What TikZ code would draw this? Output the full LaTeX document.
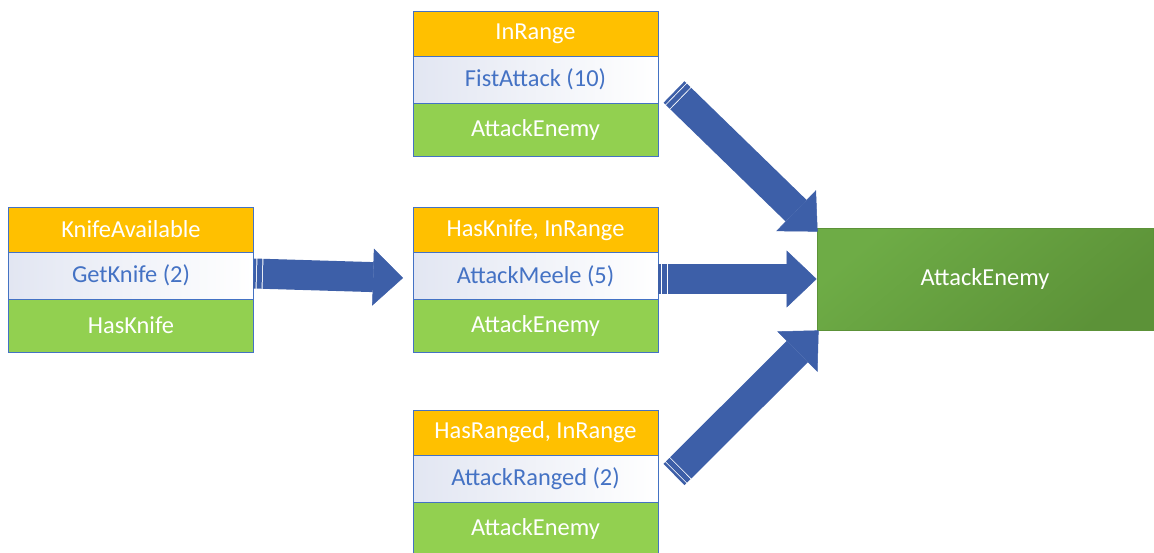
\documentclass[tikz,border=0pt]{standalone}
\usepackage{fontspec}
\setmainfont{Carlito}
\usetikzlibrary{positioning,calc,arrows.meta}

\definecolor{preorange}{RGB}{255,192,0}
\definecolor{effgreen}{RGB}{146,208,80}
\definecolor{boxline}{RGB}{68,114,196}
\definecolor{acttext}{RGB}{68,114,196}
\definecolor{actshade}{RGB}{226,230,242}
\definecolor{goalgreen}{RGB}{110,172,70}
\definecolor{goaldark}{RGB}{92,146,56}
\definecolor{arrowblue}{RGB}{61,95,168}

% striped block arrow from #1 to #2
\newcommand{\blockarrow}[2]{%
    \draw[arrowbar] ($(#1)!9.5pt!(#2)$) -- (#2);
    \draw[arrowstub] (#1) -- ($(#1)!2.5pt!(#2)$);
    \draw[arrowstub] ($(#1)!3.5pt!(#2)$) -- ($(#1)!8.5pt!(#2)$);
}

\begin{document}
\begin{tikzpicture}[x=1pt, y=-1pt,
        cell/.style={rectangle, draw=boxline, line width=0.8pt, outer sep=0pt,
            minimum width=245pt, font=\fontsize{24.4}{28}\selectfont},
        pre/.style={cell, fill=preorange, text=white, minimum height=45pt},
        act/.style={cell, left color=actshade, right color=white, text=acttext, minimum height=47pt},
        eff/.style={cell, fill=effgreen, text=white, minimum height=53pt},
        goal/.style={rectangle, draw=goaldark, line width=0.8pt, top color=goalgreen, bottom color=goaldark,
            shading angle=40, text=white, minimum width=336pt, minimum height=102pt,
            font=\fontsize{24.4}{28}\selectfont},
        arrowbar/.style={draw=arrowblue, line width=30pt,
            -{Triangle[length=30pt, width=57pt, line width=0.5pt]}},
        arrowstub/.style={draw=arrowblue, line width=30pt}]
    \useasboundingbox (0,0) rectangle (1154,552);

    %knife
    \node[pre] (knife-pre) at (131,229.5) {KnifeAvailable};
    \node[act, below=0pt of knife-pre] (knife-act) {GetKnife (2)};
    \node[eff, below=0pt of knife-act] (knife-eff) {HasKnife};

    %fist
    \node[pre] (fist-pre) at (535.5,33.5) {InRange};
    \node[act, below=0pt of fist-pre] (fist-act) {FistAttack (10)};
    \node[eff, below=0pt of fist-act] (fist-eff) {AttackEnemy};

    %melee
    \node[pre] (melee-pre) at (535.5,230) {HasKnife, InRange};
    \node[act, below=0pt of melee-pre] (melee-act) {AttackMeele (5)};
    \node[eff, below=0pt of melee-act] (melee-eff) {AttackEnemy};

    %ranged
    \node[pre] (ranged-pre) at (535.5,432.5) {HasRanged, InRange};
    \node[act, below=0pt of ranged-pre] (ranged-act) {AttackRanged (2)};
    \node[eff, below=0pt of ranged-act] (ranged-eff) {AttackEnemy};

    %goal
    \node[goal] (goal) at (985,279) {AttackEnemy};

    %arrow ends
    \coordinate (knife-out) at ([yshift=2pt]knife-act.east);
    \coordinate (melee-in) at ([shift={(-10,2)}]melee-act.west);
    \coordinate (melee-out) at (melee-act.east |- goal.west);
    \coordinate (fist-out) at ([shift={(16,-11)}]fist-eff.north east);
    \coordinate (ranged-out) at ([shift={(16,-4)}]ranged-act.east);
    \coordinate (goal-top) at ([shift={(1,4)}]goal.north west);
    \coordinate (goal-bottom) at ([shift={(2,0)}]goal.south west);

    %arrows
    \blockarrow{knife-out}{melee-in}
    \blockarrow{melee-out}{goal.west}
    \blockarrow{fist-out}{goal-top}
    \blockarrow{ranged-out}{goal-bottom}
\end{tikzpicture}
\end{document}
